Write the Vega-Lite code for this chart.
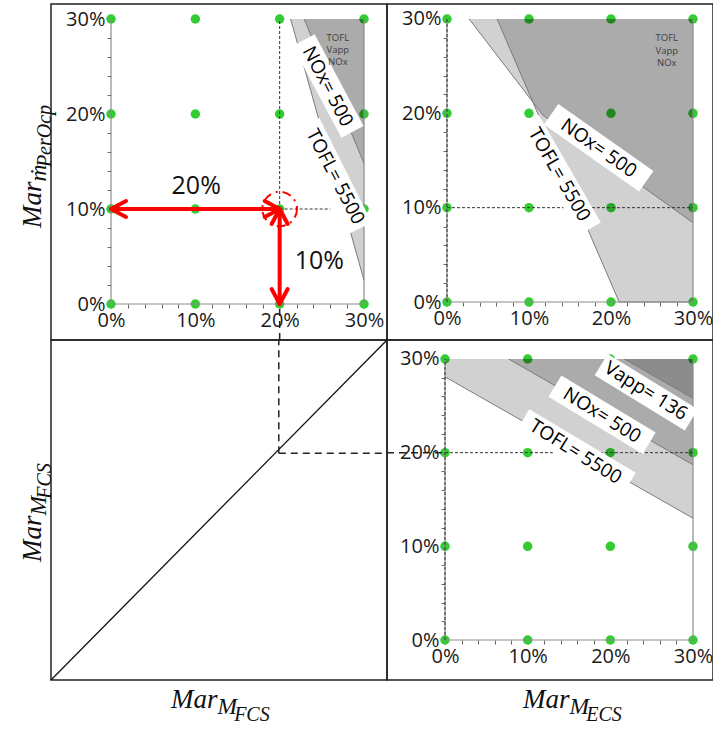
{
 "$schema": "https://vega.github.io/schema/vega-lite/v6.json",
 "background": "white",
 "padding": {"left": 18, "top": 3, "right": 0, "bottom": 0},
 "config": {
  "view": {"stroke": "#222", "strokeWidth": 1.5},
  "font": "Open Sans",
  "axis": {"domain": false, "grid": false, "labelFont": "Open Sans", "labelFontSize": 20, "labelColor": "#1a1a1a", "tickColor": "#666", "tickSize": 4, "labelPadding": 2, "labelOverlap": false, "labelFlush": false}
 },
 "datasets": {
  "dots": [
   {"p":"TL","x":0,"y":0},{"p":"TL","x":0,"y":10},{"p":"TL","x":0,"y":20},{"p":"TL","x":0,"y":30},
   {"p":"TL","x":10,"y":0},{"p":"TL","x":10,"y":10},{"p":"TL","x":10,"y":20},{"p":"TL","x":10,"y":30},
   {"p":"TL","x":20,"y":0},{"p":"TL","x":20,"y":10},{"p":"TL","x":20,"y":20},{"p":"TL","x":20,"y":30},
   {"p":"TL","x":30,"y":0},{"p":"TL","x":30,"y":10},{"p":"TL","x":30,"y":20},{"p":"TL","x":30,"y":30},
   {"p":"TR","x":0,"y":0},{"p":"TR","x":0,"y":10},{"p":"TR","x":0,"y":20},{"p":"TR","x":0,"y":30},
   {"p":"TR","x":10,"y":0},{"p":"TR","x":10,"y":10},{"p":"TR","x":10,"y":20},{"p":"TR","x":10,"y":30},
   {"p":"TR","x":20,"y":0},{"p":"TR","x":20,"y":10},{"p":"TR","x":20,"y":20},{"p":"TR","x":20,"y":30},
   {"p":"TR","x":30,"y":0},{"p":"TR","x":30,"y":10},{"p":"TR","x":30,"y":20},{"p":"TR","x":30,"y":30},
   {"p":"BR","x":0,"y":0},{"p":"BR","x":0,"y":10},{"p":"BR","x":0,"y":20},{"p":"BR","x":0,"y":30},
   {"p":"BR","x":10,"y":0},{"p":"BR","x":10,"y":10},{"p":"BR","x":10,"y":20},{"p":"BR","x":10,"y":30},
   {"p":"BR","x":20,"y":0},{"p":"BR","x":20,"y":10},{"p":"BR","x":20,"y":20},{"p":"BR","x":20,"y":30},
   {"p":"BR","x":30,"y":0},{"p":"BR","x":30,"y":10},{"p":"BR","x":30,"y":20},{"p":"BR","x":30,"y":30}
  ],
  "regions": [
   {"p":"TL","r":"TOFL","x":21.3,"y":30},{"p":"TL","r":"TOFL","x":30,"y":2.5},
   {"p":"TL","r":"NOx","x":22.9,"y":30},{"p":"TL","r":"NOx","x":30,"y":14.8},
   {"p":"TR","r":"TOFL","x":6.1,"y":30},{"p":"TR","r":"TOFL","x":21.0,"y":0},{"p":"TR","r":"TOFL","x":30,"y":0},
   {"p":"TR","r":"NOx","x":2.7,"y":30},{"p":"TR","r":"NOx","x":11.7,"y":19.8},{"p":"TR","r":"NOx","x":30,"y":8.4},
   {"p":"BR","r":"TOFL","x":0,"y":28.1},{"p":"BR","r":"TOFL","x":30,"y":13.0},
   {"p":"BR","r":"NOx","x":7.7,"y":30},{"p":"BR","r":"NOx","x":30,"y":18.7},
   {"p":"BR","r":"Vapp","x":21.7,"y":30},{"p":"BR","r":"Vapp","x":30,"y":25.8}
  ],
  "frames": [
   {"p":"TL","x":0,"y":0,"x2":0,"y2":30},{"p":"TL","x":0,"y":0,"x2":30,"y2":0},{"p":"TL","x":30,"y":0,"x2":30,"y2":30},
   {"p":"TR","x":0,"y":0,"x2":0,"y2":30},{"p":"TR","x":0,"y":0,"x2":30,"y2":0},{"p":"TR","x":30,"y":0,"x2":30,"y2":30},
   {"p":"BR","x":0,"y":0,"x2":0,"y2":30},{"p":"BR","x":0,"y":0,"x2":30,"y2":0},{"p":"BR","x":30,"y":0,"x2":30,"y2":30}
  ],
  "guides": [
   {"p":"TL","s":"thin","x":20,"y":10,"x2":20,"y2":30},{"p":"TL","s":"thin","x":20,"y":10,"x2":26,"y2":10},
   {"p":"TL","s":"thick","x":20,"y":-3.79,"x2":20,"y2":0},
   {"p":"TR","s":"thin","x":0,"y":10,"x2":30,"y2":10},{"p":"TR","s":"thin","x":0,"y":0,"x2":0,"y2":30},
   {"p":"BR","s":"thin","x":0,"y":20,"x2":30,"y2":20},{"p":"BR","s":"thin","x":0,"y":0,"x2":0,"y2":30},
   {"p":"BR","s":"thick","x":-7.016,"y":20,"x2":0,"y2":20},
   {"p":"BL","s":"thick","x":20,"y":20,"x2":20,"y2":30},{"p":"BL","s":"thick","x":20,"y":20,"x2":29.5,"y2":20},
   {"p":"BL","s":"solid","x":0,"y":0,"x2":29.5,"y2":30}
  ],
  "arrows": [
   {"s":"h","o":0,"x":0,"y":10},{"s":"h","o":1,"x":20,"y":10},
   {"s":"v","o":0,"x":20,"y":0},{"s":"v","o":1,"x":20,"y":10},
   {"s":"hl","o":0,"x":1.78,"y":10.84},{"s":"hl","o":1,"x":0,"y":10},{"s":"hl","o":2,"x":1.78,"y":9.16},
   {"s":"hr","o":0,"x":18.22,"y":10.84},{"s":"hr","o":1,"x":20,"y":10},{"s":"hr","o":2,"x":18.22,"y":9.16},
   {"s":"vb","o":0,"x":19.05,"y":1.58},{"s":"vb","o":1,"x":20,"y":0},{"s":"vb","o":2,"x":20.95,"y":1.58},
   {"s":"vt","o":0,"x":19.05,"y":8.42},{"s":"vt","o":1,"x":20,"y":10},{"s":"vt","o":2,"x":20.95,"y":8.42}
  ],
  "focus": [{"x":20,"y":10}],
  "bands": [
   {"p":"TL","id":"n","x":22.84,"y":27.78},{"p":"TL","id":"n","x":28.63,"y":18.12},
   {"p":"TL","id":"t","x":23.37,"y":19.01},{"p":"TL","id":"t","x":29.6,"y":8.0},
   {"p":"TR","id":"n","x":12.7,"y":19.9},{"p":"TR","id":"n","x":24.3,"y":12.8},
   {"p":"TR","id":"t","x":9.88,"y":19.16},{"p":"TR","id":"t","x":17.44,"y":7.77},
   {"p":"BR","id":"v","x":18.9,"y":29.4},{"p":"BR","id":"v","x":29.8,"y":23.5},
   {"p":"BR","id":"n","x":13.3,"y":27.1},{"p":"BR","id":"n","x":24.7,"y":21.0},
   {"p":"BR","id":"t","x":9.42,"y":23.5},{"p":"BR","id":"t","x":22.3,"y":16.7}
  ],
  "labels": [
   {"g":"TLa","t":"NOx= 500","x":25.7,"y":22.9},{"g":"TLa","t":"TOFL= 5500","x":26.6,"y":13.4},
   {"g":"TLs","t":"TOFL","x":26.9,"y":28.0},{"g":"TLs","t":"Vapp","x":26.9,"y":26.7},{"g":"TLs","t":"NOx","x":26.9,"y":25.5},
   {"g":"TLn","t":"20%","x":10.1,"y":12.4},{"g":"TLn","t":"10%","x":24.7,"y":4.5},
   {"g":"TRn","t":"NOx= 500","x":18.5,"y":16.3},
   {"g":"TRt","t":"TOFL= 5500","x":13.7,"y":13.5},
   {"g":"TRs","t":"TOFL","x":26.8,"y":28.0},{"g":"TRs","t":"Vapp","x":26.8,"y":26.6},{"g":"TRs","t":"NOx","x":26.8,"y":25.3},
   {"g":"BRa","t":"Vapp= 136","x":24.3,"y":26.6},{"g":"BRa","t":"NOx= 500","x":19.0,"y":24.0},{"g":"BRa","t":"TOFL= 5500","x":15.8,"y":20.1}
  ],
  "titles": [
   {"g":"TLv","k":0,"t":"Mar","x":-8.30,"y":8.0},{"g":"TLv","k":1,"t":"ṁ","x":-7.71,"y":12.89},{"g":"TLv","k":2,"t":"PerOcp","x":-7.11,"y":14.41},
   {"g":"BLv","k":0,"t":"Mar","x":-0.878,"y":10.41},{"g":"BLv","k":1,"t":"M","x":-0.439,"y":14.51},{"g":"BLv","k":2,"t":"FCS","x":0.0,"y":15.99},
   {"g":"BLh","k":0,"t":"Mar","x":10.54,"y":-2.47},{"g":"BLh","k":1,"t":"M","x":14.62,"y":-3.0},{"g":"BLh","k":2,"t":"FCS","x":16.08,"y":-3.62},
   {"g":"BRh","k":0,"t":"Mar","x":9.44,"y":-7.26},{"g":"BRh","k":1,"t":"M","x":15.06,"y":-7.90},{"g":"BRh","k":2,"t":"ECS","x":17.08,"y":-8.65}
  ]
 },
 "columns": 2,
 "spacing": 0,
 "bounds": "flush",
 "concat": [
    {
     "width": 336, "height": 336,
     "encoding": {
      "x": {"field": "x", "type": "quantitative", "scale": {"domain": [-7.115, 32.727], "nice": false, "zero": false},
            "axis": {"title": null, "offset": -36, "values": [0,2,4,6,8,10,12,14,16,18,20,22,24,26,28,30], "labelExpr": "datum.value % 10 === 0 ? datum.value + '%' : ''"}},
      "y": {"field": "y", "type": "quantitative", "stack": null, "scale": {"domain": [-3.789, 31.579], "nice": false, "zero": false},
            "axis": {"title": null, "offset": -60, "values": [0,2,4,6,8,10,12,14,16,18,20,22,24,26,28,30], "labelExpr": "datum.value % 10 === 0 ? datum.value + '%' : ''"}}
     },
     "layer": [
      {"data": {"name": "dots"}, "transform": [{"filter": "datum.p === 'TL'"}], "mark": {"type": "circle", "size": 90, "color": "#33cc33", "opacity": 1}},
      {"data": {"name": "regions"}, "transform": [{"filter": "datum.p === 'TL'"}], "mark": {"type": "area", "color": "#000", "fillOpacity": 0.18, "line": {"color": "#7a7a7a", "strokeWidth": 1, "strokeJoin": "round"}}, "encoding": {"y2": {"datum": 30}, "detail": {"field": "r"}}},
      {"data": {"name": "frames"}, "transform": [{"filter": "datum.p === 'TL'"}], "mark": {"type": "rule", "color": "#8c8c8c", "strokeWidth": 1.2}, "encoding": {"x2": {"field": "x2"}, "y2": {"field": "y2"}}},
      {"data": {"name": "guides"}, "transform": [{"filter": "datum.p === 'TL' && datum.s === 'thin'"}], "mark": {"type": "rule", "color": "#333", "strokeWidth": 1, "strokeDash": [3, 2]}, "encoding": {"x2": {"field": "x2"}, "y2": {"field": "y2"}}},
      {"data": {"name": "guides"}, "transform": [{"filter": "datum.p === 'TL' && datum.s === 'thick'"}], "mark": {"type": "rule", "color": "#222", "strokeWidth": 1.5, "strokeDash": [7, 5]}, "encoding": {"x2": {"field": "x2"}, "y2": {"field": "y2"}}},
      {"data": {"name": "bands"}, "transform": [{"filter": "datum.p === 'TL'"}], "mark": {"type": "line", "color": "white", "strokeWidth": 25, "strokeCap": "butt", "strokeJoin": "round"}, "encoding": {"detail": {"field": "id"}}},
      {"data": {"name": "labels"}, "transform": [{"filter": "datum.g === 'TLa'"}], "mark": {"type": "text", "angle": 62.5, "font": "Open Sans", "fontSize": 19, "color": "#000", "align": "center", "baseline": "middle"}, "encoding": {"text": {"field": "t"}}},
      {"data": {"name": "labels"}, "transform": [{"filter": "datum.g === 'TLs'"}], "mark": {"type": "text", "font": "Open Sans", "fontSize": 9.5, "color": "#404040", "align": "center", "baseline": "middle"}, "encoding": {"text": {"field": "t"}}},
      {"data": {"name": "labels"}, "transform": [{"filter": "datum.g === 'TLn'"}], "mark": {"type": "text", "font": "Open Sans", "fontSize": 25, "color": "#111", "align": "center", "baseline": "middle"}, "encoding": {"text": {"field": "t"}}},
      {"data": {"name": "arrows"}, "mark": {"type": "line", "color": "#ff0000", "strokeWidth": 4, "strokeCap": "round", "strokeJoin": "round"}, "encoding": {"detail": {"field": "s"}, "order": {"field": "o"}}},
      {"data": {"name": "focus"}, "mark": {"type": "point", "shape": "circle", "size": 1200, "filled": false, "stroke": "#ff0000", "strokeWidth": 2, "strokeDash": [9, 5, 2, 5], "opacity": 1}},
      {"data": {"name": "titles"}, "transform": [{"filter": "datum.g === 'TLv'"}], "mark": {"type": "text", "angle": 270, "font": "Liberation Serif", "fontStyle": "italic", "align": "left", "baseline": "alphabetic", "color": "#111"},
       "encoding": {"text": {"field": "t"}, "size": {"field": "k", "type": "ordinal", "scale": {"domain": [0, 1, 2], "range": [27, 20, 18]}, "legend": null}}}
     ]
    },
    {
     "width": 326, "height": 336,
     "encoding": {
      "x": {"field": "x", "type": "quantitative", "scale": {"domain": [-7.317, 32.439], "nice": false, "zero": false},
            "axis": {"title": null, "offset": -38, "values": [0,2,4,6,8,10,12,14,16,18,20,22,24,26,28,30], "labelExpr": "datum.value % 10 === 0 ? datum.value + '%' : ''"}},
      "y": {"field": "y", "type": "quantitative", "stack": null, "scale": {"domain": [-4.028, 31.59], "nice": false, "zero": false},
            "axis": {"title": null, "offset": -60, "values": [0,2,4,6,8,10,12,14,16,18,20,22,24,26,28,30], "labelExpr": "datum.value % 10 === 0 ? datum.value + '%' : ''"}}
     },
     "layer": [
      {"data": {"name": "dots"}, "transform": [{"filter": "datum.p === 'TR'"}], "mark": {"type": "circle", "size": 90, "color": "#33cc33", "opacity": 1}},
      {"data": {"name": "regions"}, "transform": [{"filter": "datum.p === 'TR'"}], "mark": {"type": "area", "color": "#000", "fillOpacity": 0.18, "line": {"color": "#7a7a7a", "strokeWidth": 1, "strokeJoin": "round"}}, "encoding": {"y2": {"datum": 30}, "detail": {"field": "r"}}},
      {"data": {"name": "frames"}, "transform": [{"filter": "datum.p === 'TR'"}], "mark": {"type": "rule", "color": "#8c8c8c", "strokeWidth": 1.2}, "encoding": {"x2": {"field": "x2"}, "y2": {"field": "y2"}}},
      {"data": {"name": "guides"}, "transform": [{"filter": "datum.p === 'TR' && datum.s === 'thin'"}], "mark": {"type": "rule", "color": "#333", "strokeWidth": 1, "strokeDash": [3, 2]}, "encoding": {"x2": {"field": "x2"}, "y2": {"field": "y2"}}},
      {"data": {"name": "bands"}, "transform": [{"filter": "datum.p === 'TR'"}], "mark": {"type": "line", "color": "white", "strokeWidth": 25, "strokeCap": "butt", "strokeJoin": "round"}, "encoding": {"detail": {"field": "id"}}},
      {"data": {"name": "labels"}, "transform": [{"filter": "datum.g === 'TRn'"}], "mark": {"type": "text", "angle": 35, "font": "Open Sans", "fontSize": 19, "color": "#000", "align": "center", "baseline": "middle"}, "encoding": {"text": {"field": "t"}}},
      {"data": {"name": "labels"}, "transform": [{"filter": "datum.g === 'TRt'"}], "mark": {"type": "text", "angle": 60, "font": "Open Sans", "fontSize": 19, "color": "#000", "align": "center", "baseline": "middle"}, "encoding": {"text": {"field": "t"}}},
      {"data": {"name": "labels"}, "transform": [{"filter": "datum.g === 'TRs'"}], "mark": {"type": "text", "font": "Open Sans", "fontSize": 9.5, "color": "#404040", "align": "center", "baseline": "middle"}, "encoding": {"text": {"field": "t"}}}
     ]
    },
    {
     "width": 336, "height": 340,
     "encoding": {
      "x": {"field": "x", "type": "quantitative", "scale": {"domain": [0, 29.5], "nice": false, "zero": false}, "axis": null},
      "y": {"field": "y", "type": "quantitative", "stack": null, "scale": {"domain": [0, 30], "nice": false, "zero": false}, "axis": null}
     },
     "layer": [
      {"data": {"name": "guides"}, "transform": [{"filter": "datum.p === 'BL' && datum.s === 'solid'"}], "mark": {"type": "rule", "color": "#111", "strokeWidth": 1.3}, "encoding": {"x2": {"field": "x2"}, "y2": {"field": "y2"}}},
      {"data": {"name": "guides"}, "transform": [{"filter": "datum.p === 'BL' && datum.s === 'thick'"}], "mark": {"type": "rule", "color": "#222", "strokeWidth": 1.5, "strokeDash": [7, 5]}, "encoding": {"x2": {"field": "x2"}, "y2": {"field": "y2"}}},
      {"data": {"name": "titles"}, "transform": [{"filter": "datum.g === 'BLv'"}], "mark": {"type": "text", "angle": 270, "font": "Liberation Serif", "fontStyle": "italic", "align": "left", "baseline": "alphabetic", "color": "#111"},
       "encoding": {"text": {"field": "t"}, "size": {"field": "k", "type": "ordinal", "scale": {"domain": [0, 1, 2], "range": [27, 20, 18]}, "legend": null}}},
      {"data": {"name": "titles"}, "transform": [{"filter": "datum.g === 'BLh'"}], "mark": {"type": "text", "font": "Liberation Serif", "fontStyle": "italic", "align": "left", "baseline": "alphabetic", "color": "#111"},
       "encoding": {"text": {"field": "t"}, "size": {"field": "k", "type": "ordinal", "scale": {"domain": [0, 1, 2], "range": [27, 20, 18]}, "legend": null}}}
     ]
    },
    {
     "width": 326, "height": 340,
     "encoding": {
      "x": {"field": "x", "type": "quantitative", "scale": {"domain": [-7.016, 32.419], "nice": false, "zero": false},
            "axis": {"title": null, "offset": -40, "values": [0,2,4,6,8,10,12,14,16,18,20,22,24,26,28,30], "labelExpr": "datum.value % 10 === 0 ? datum.value + '%' : ''"}},
      "y": {"field": "y", "type": "quantitative", "stack": null, "scale": {"domain": [-4.27, 32.028], "nice": false, "zero": false},
            "axis": {"title": null, "offset": -58, "values": [0,2,4,6,8,10,12,14,16,18,20,22,24,26,28,30], "labelExpr": "datum.value % 10 === 0 ? datum.value + '%' : ''"}}
     },
     "layer": [
      {"data": {"name": "dots"}, "transform": [{"filter": "datum.p === 'BR'"}], "mark": {"type": "circle", "size": 90, "color": "#33cc33", "opacity": 1}},
      {"data": {"name": "regions"}, "transform": [{"filter": "datum.p === 'BR'"}], "mark": {"type": "area", "color": "#000", "fillOpacity": 0.18, "line": {"color": "#7a7a7a", "strokeWidth": 1, "strokeJoin": "round"}}, "encoding": {"y2": {"datum": 30}, "detail": {"field": "r"}}},
      {"data": {"name": "frames"}, "transform": [{"filter": "datum.p === 'BR'"}], "mark": {"type": "rule", "color": "#8c8c8c", "strokeWidth": 1.2}, "encoding": {"x2": {"field": "x2"}, "y2": {"field": "y2"}}},
      {"data": {"name": "guides"}, "transform": [{"filter": "datum.p === 'BR' && datum.s === 'thin'"}], "mark": {"type": "rule", "color": "#333", "strokeWidth": 1, "strokeDash": [3, 2]}, "encoding": {"x2": {"field": "x2"}, "y2": {"field": "y2"}}},
      {"data": {"name": "guides"}, "transform": [{"filter": "datum.p === 'BR' && datum.s === 'thick'"}], "mark": {"type": "rule", "color": "#222", "strokeWidth": 1.5, "strokeDash": [7, 5]}, "encoding": {"x2": {"field": "x2"}, "y2": {"field": "y2"}}},
      {"data": {"name": "bands"}, "transform": [{"filter": "datum.p === 'BR'"}], "mark": {"type": "line", "color": "white", "strokeWidth": 25, "strokeCap": "butt", "strokeJoin": "round"}, "encoding": {"detail": {"field": "id"}}},
      {"data": {"name": "labels"}, "transform": [{"filter": "datum.g === 'BRa'"}], "mark": {"type": "text", "angle": 32, "font": "Open Sans", "fontSize": 19, "color": "#000", "align": "center", "baseline": "middle"}, "encoding": {"text": {"field": "t"}}},
      {"data": {"name": "titles"}, "transform": [{"filter": "datum.g === 'BRh'"}], "mark": {"type": "text", "font": "Liberation Serif", "fontStyle": "italic", "align": "left", "baseline": "alphabetic", "color": "#111"},
       "encoding": {"text": {"field": "t"}, "size": {"field": "k", "type": "ordinal", "scale": {"domain": [0, 1, 2], "range": [27, 20, 18]}, "legend": null}}}
     ]
    }
 ]
}
